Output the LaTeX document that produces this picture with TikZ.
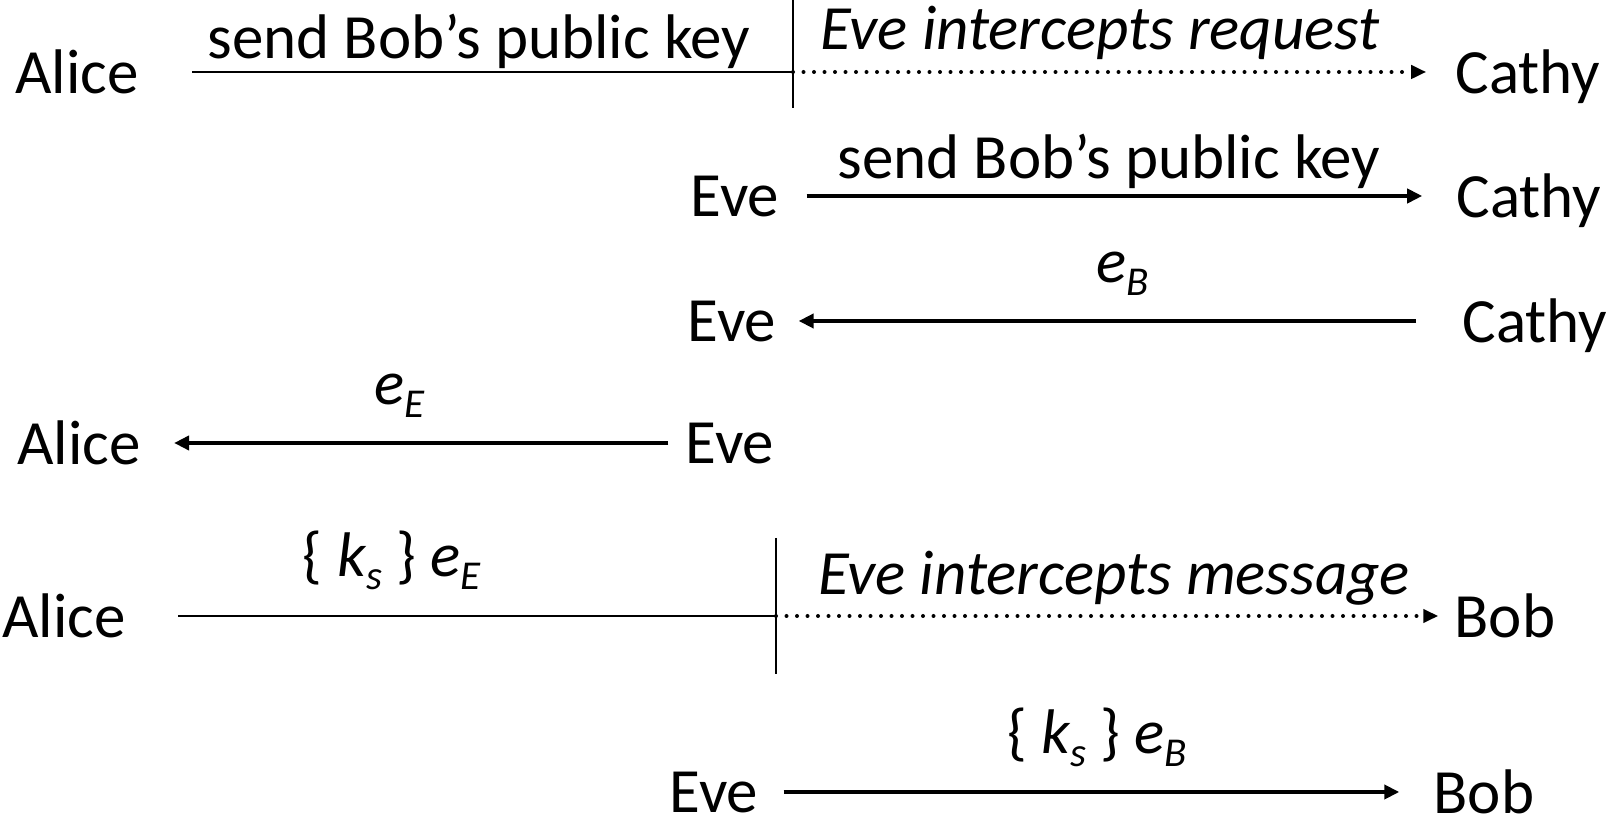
\documentclass[tikz,border=0pt]{standalone}
\usepackage{fontspec}
\setmainfont{Carlito}
\usetikzlibrary{arrows.meta}

\tikzset{
  party/.style={inner sep=0pt, text depth=0pt, font=\fontsize{31.5}{38}\selectfont},
  msg/.style={inner sep=0pt, anchor=base, font=\fontsize{31.5}{38}\selectfont},
  plain/.style={line width=1pt},
  bar/.style={line width=1pt},
  send/.style={line width=2pt, -{Triangle[length=7.5pt,width=7pt]}},
  relay/.style={line width=2pt, line cap=round, dash pattern=on 0pt off 5.25pt,
    -{Triangle[length=7.5pt,width=6.5pt]}},
}
\newcommand{\lowsub}[1]{\raisebox{-0.2em}{\fontsize{20.5}{20.5}\selectfont\textit{#1}}}
\newcommand{\pubkey}[1]{\textit{e}\lowsub{#1}}
\newcommand{\seskey}{\textit{k}\lowsub{s}}

\begin{document}
\begin{tikzpicture}[x=0.5pt, y=-0.5pt]
    \useasboundingbox (0,0) rectangle (1608,822);

    % step 1
    \node[party] (alice1) at (77,72) {Alice};
    \node[party] (cathy1) at (1528,72) {Cathy};
    \coordinate (cut1) at (793,72);
    \coordinate (cut1top) at (793,0);
    \coordinate (cut1bot) at (793,108);
    \draw[bar] (cut1top) -- (cut1bot);
    \draw[plain, shorten <=26.5pt] (alice1) -- (cut1);
    \draw[relay, shorten >=14.5pt] (cut1) -- (cathy1);
    \node[msg] (ask1) at (479,59) {send Bob's public key};
    \node[msg] (grab1) at (1100,50) {\itshape Eve intercepts request};

    % step 2
    \node[party] (eve2) at (735,196) {Eve};
    \node[party] (cathy2) at (1529,196) {Cathy};
    \draw[send, shorten <=13.5pt, shorten >=17pt] (eve2) -- (cathy2);
    \node[msg] (ask2) at (1109,179) {send Bob's public key};

    % step 3
    \node[party] (eve3) at (732,321) {Eve};
    \node[party] (cathy3) at (1535,321) {Cathy};
    \draw[send, shorten <=23pt, shorten >=11pt] (cathy3) -- (eve3);
    \node[msg] (key3) at (1123,283) {\pubkey{B}};

    % step 4
    \node[party] (alice4) at (79,443) {Alice};
    \node[party] (eve4) at (730,443) {Eve};
    \draw[send, shorten <=8.5pt, shorten >=16.5pt] (eve4) -- (alice4);
    \node[msg] (key4) at (400,405) {\pubkey{E}};

    % step 5
    \node[party] (alice5) at (64,616) {Alice};
    \node[party] (bob5) at (1505,616) {Bob};
    \coordinate (cut5) at (776,616);
    \coordinate (cut5top) at (776,538);
    \coordinate (cut5bot) at (776,674);
    \draw[bar] (cut5top) -- (cut5bot);
    \draw[plain, shorten <=26pt] (alice5) -- (cut5);
    \draw[relay, shorten >=8pt] (cut5) -- (bob5);
    \node[msg] (wrap5) at (392,577) {\{ \seskey\ \} \pubkey{E}};
    \node[msg] (grab5) at (1114,595) {\itshape Eve intercepts message};

    % step 6
    \node[party] (eve6) at (714,792) {Eve};
    \node[party] (bob6) at (1484,792) {Bob};
    \draw[send, shorten <=12.5pt, shorten >=17pt] (eve6) -- (bob6);
    \node[msg] (wrap6) at (1097,754) {\{ \seskey\ \} \pubkey{B}};
\end{tikzpicture}
\end{document}
